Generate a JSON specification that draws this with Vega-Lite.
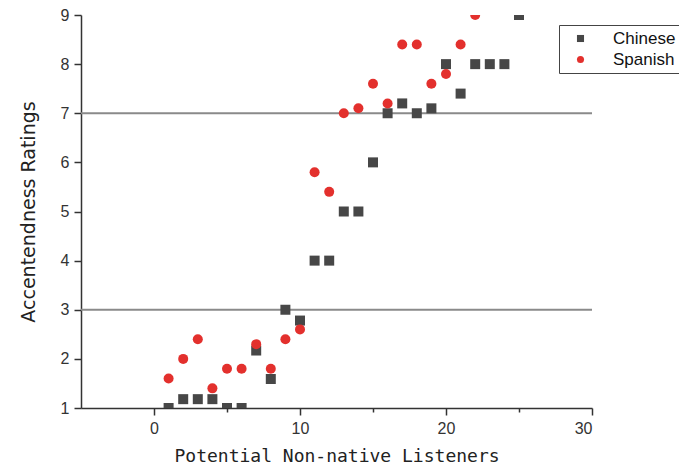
{
  "$schema": "https://vega.github.io/schema/vega-lite/v6.json",
  "width": 511,
  "height": 393,
  "autosize": "none",
  "padding": {"left": 81, "top": 15, "right": 87, "bottom": 62},
  "background": "white",
  "config": {
    "view": {"stroke": null},
    "font": "Liberation Sans"
  },
  "layer": [
    {
      "data": {"values": [{"ref": 3}, {"ref": 7}]},
      "mark": {"type": "rule", "color": "#8a8a8a", "strokeWidth": 2},
      "encoding": {
        "y": {"field": "ref", "type": "quantitative", "scale": {"domain": [1, 9], "nice": false}}
      }
    },
    {
      "data": {
        "values": [
          {"listener": 1, "rating": 1.0, "group": "Chinese"},
          {"listener": 2, "rating": 1.18, "group": "Chinese"},
          {"listener": 3, "rating": 1.18, "group": "Chinese"},
          {"listener": 4, "rating": 1.18, "group": "Chinese"},
          {"listener": 5, "rating": 1.0, "group": "Chinese"},
          {"listener": 6, "rating": 1.0, "group": "Chinese"},
          {"listener": 7, "rating": 2.17, "group": "Chinese"},
          {"listener": 8, "rating": 1.59, "group": "Chinese"},
          {"listener": 9, "rating": 3.0, "group": "Chinese"},
          {"listener": 10, "rating": 2.78, "group": "Chinese"},
          {"listener": 11, "rating": 4.0, "group": "Chinese"},
          {"listener": 12, "rating": 4.0, "group": "Chinese"},
          {"listener": 13, "rating": 5.0, "group": "Chinese"},
          {"listener": 14, "rating": 5.0, "group": "Chinese"},
          {"listener": 15, "rating": 6.0, "group": "Chinese"},
          {"listener": 16, "rating": 7.0, "group": "Chinese"},
          {"listener": 17, "rating": 7.2, "group": "Chinese"},
          {"listener": 18, "rating": 7.0, "group": "Chinese"},
          {"listener": 19, "rating": 7.1, "group": "Chinese"},
          {"listener": 20, "rating": 8.0, "group": "Chinese"},
          {"listener": 21, "rating": 7.4, "group": "Chinese"},
          {"listener": 22, "rating": 8.0, "group": "Chinese"},
          {"listener": 23, "rating": 8.0, "group": "Chinese"},
          {"listener": 24, "rating": 8.0, "group": "Chinese"},
          {"listener": 25, "rating": 9.0, "group": "Chinese"},
          {"listener": 1, "rating": 1.6, "group": "Spanish"},
          {"listener": 2, "rating": 2.0, "group": "Spanish"},
          {"listener": 3, "rating": 2.4, "group": "Spanish"},
          {"listener": 4, "rating": 1.4, "group": "Spanish"},
          {"listener": 5, "rating": 1.8, "group": "Spanish"},
          {"listener": 6, "rating": 1.8, "group": "Spanish"},
          {"listener": 7, "rating": 2.3, "group": "Spanish"},
          {"listener": 8, "rating": 1.8, "group": "Spanish"},
          {"listener": 9, "rating": 2.4, "group": "Spanish"},
          {"listener": 10, "rating": 2.6, "group": "Spanish"},
          {"listener": 11, "rating": 5.8, "group": "Spanish"},
          {"listener": 12, "rating": 5.4, "group": "Spanish"},
          {"listener": 13, "rating": 7.0, "group": "Spanish"},
          {"listener": 14, "rating": 7.1, "group": "Spanish"},
          {"listener": 15, "rating": 7.6, "group": "Spanish"},
          {"listener": 16, "rating": 7.2, "group": "Spanish"},
          {"listener": 17, "rating": 8.4, "group": "Spanish"},
          {"listener": 18, "rating": 8.4, "group": "Spanish"},
          {"listener": 19, "rating": 7.6, "group": "Spanish"},
          {"listener": 20, "rating": 7.8, "group": "Spanish"},
          {"listener": 21, "rating": 8.4, "group": "Spanish"},
          {"listener": 22, "rating": 9.0, "group": "Spanish"}
        ]
      },
      "mark": {"type": "point", "filled": true, "opacity": 1, "size": 100, "clip": true},
      "encoding": {
        "x": {
          "field": "listener", "type": "quantitative",
          "scale": {"domain": [-5, 30], "nice": false},
          "axis": {
            "title": "Potential Non-native Listeners",
            "values": [0, 5, 10, 15, 20, 25, 30],
            "labelExpr": "datum.value % 10 === 0 ? datum.label : ''",
            "grid": false,
            "domainColor": "#333333", "domainWidth": 1.5,
            "tickColor": "#333333", "tickWidth": 1.5,
            "tickSize": {"condition": {"test": "datum.value % 10 === 0", "value": 7}, "value": 4},
            "labelFont": "Liberation Sans", "labelFontSize": 16, "labelColor": "#333333", "labelPadding": 5,
            "titleFont": "DejaVu Sans Mono", "titleFontSize": 18, "titleFontWeight": "normal", "titleColor": "#222222", "titlePadding": 11
          }
        },
        "y": {
          "field": "rating", "type": "quantitative",
          "scale": {"domain": [1, 9], "nice": false},
          "axis": {
            "title": "Accentendness Ratings",
            "values": [1, 1.5, 2, 2.5, 3, 3.5, 4, 4.5, 5, 5.5, 6, 6.5, 7, 7.5, 8, 8.5, 9],
            "labelExpr": "datum.value % 1 === 0 ? datum.label : ''",
            "grid": false,
            "domainColor": "#333333", "domainWidth": 1.5,
            "tickColor": "#333333", "tickWidth": 1.5,
            "tickSize": {"condition": {"test": "datum.value % 1 === 0", "value": 7}, "value": 4},
            "labelFont": "Liberation Sans", "labelFontSize": 16, "labelColor": "#333333", "labelPadding": 5,
            "titleFont": "DejaVu Sans", "titleFontSize": 19, "titleFontWeight": "normal", "titleColor": "#222222", "titlePadding": 22
          }
        },
        "color": {
          "field": "group", "type": "nominal",
          "scale": {"domain": ["Chinese", "Spanish"], "range": ["#474747", "#e3302d"]},
          "legend": {
            "title": null,
            "orient": "none", "legendX": 478, "legendY": 10,
            "strokeColor": "#444444", "padding": 5,
            "labelFont": "Liberation Sans", "labelFontSize": 17, "labelColor": "#111111",
            "symbolSize": 50, "rowPadding": 3, "labelOffset": 24, "symbolOffset": 8
          }
        },
        "shape": {
          "field": "group", "type": "nominal",
          "scale": {"domain": ["Chinese", "Spanish"], "range": ["square", "circle"]}
        }
      }
    }
  ]
}
